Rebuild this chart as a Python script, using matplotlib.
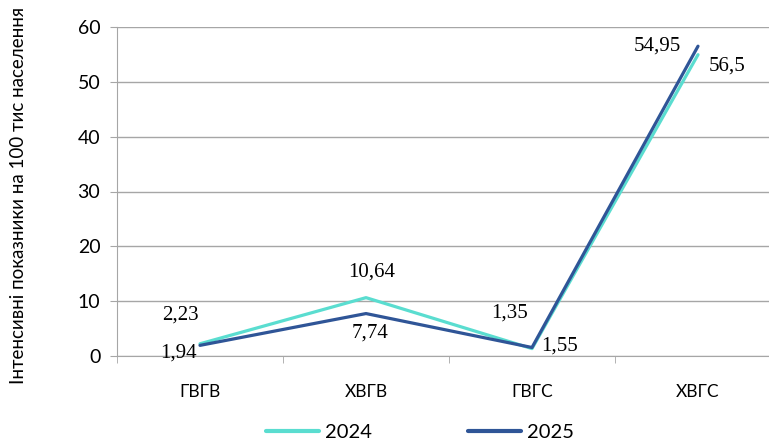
import matplotlib.pyplot as plt

categories = ["ГВГВ", "ХВГВ", "ГВГС", "ХВГС"]
values_2024 = [2.23, 10.64, 1.35, 54.95]
values_2025 = [1.94, 7.74, 1.55, 56.5]
labels_2024 = ["2,23", "10,64", "1,35", "54,95"]
labels_2025 = ["1,94", "7,74", "1,55", "56,5"]

# label offsets in pixels (dx, dy with y up)
off_2024 = [(-20, 29), (6, 26), (-22, 36), (-41, 9)]
off_2025 = [(-22, -8), (4, -19), (28, 1), (29, -20)]

c2024 = "#5ADDD0"
c2025 = "#2F5597"
grid_c = "#A6A6A6"
sans = "Lato"

fig = plt.figure(figsize=(7.69, 4.41), dpi=100)
ax = fig.add_axes([117 / 769, 1 - 356 / 441, 664 / 769, 329 / 441])

x = list(range(len(categories)))
ax.plot(x, values_2024, color=c2024, lw=2.3, label="2024", solid_capstyle="round")
ax.plot(x, values_2025, color=c2025, lw=2.3, label="2025", solid_capstyle="round")

for xi, v, t, (dx, dy) in zip(x, values_2024, labels_2024, off_2024):
    ax.annotate(t, (xi, v), xytext=(dx * 0.72, dy * 0.72), textcoords="offset points",
                ha="center", va="center", fontsize=15, family="Liberation Serif")
for xi, v, t, (dx, dy) in zip(x, values_2025, labels_2025, off_2025):
    ax.annotate(t, (xi, v), xytext=(dx * 0.72, dy * 0.72), textcoords="offset points",
                ha="center", va="center", fontsize=15, family="Liberation Serif")

ax.set_xlim(-0.5, 3.5)
ax.set_ylim(0, 60)
ax.set_yticks(range(0, 61, 10))
ax.set_xticks(x)
ax.set_xticklabels(categories, family=sans, fontsize=12.5)
ax.set_yticklabels([str(v) for v in range(0, 61, 10)], family=sans, fontsize=14)
ax.set_xticks([-0.5, 0.5, 1.5, 2.5, 3.5], minor=True)
ax.tick_params(axis="x", which="major", length=0, pad=20)
ax.tick_params(axis="x", which="minor", length=5, color=grid_c, direction="out")
ax.tick_params(axis="y", length=5, color=grid_c, pad=7)
ax.yaxis.grid(True, color=grid_c, lw=1)
ax.set_axisbelow(True)
for s in ["top", "right"]:
    ax.spines[s].set_visible(False)
ax.spines["left"].set_color(grid_c)
ax.spines["bottom"].set_color(grid_c)

fig.text(19 / 769, 1 - 195 / 441, "Інтенсивні показники на 100 тис населення",
         rotation=90, ha="center", va="center", fontsize=13.5, family=sans)

leg = fig.legend(loc="center", bbox_to_anchor=(420 / 769, 1 - 432 / 441), ncol=2,
                 frameon=False, prop={"family": sans, "size": 14.5}, handlelength=2.6,
                 columnspacing=4.8, handletextpad=0.3)
for line in leg.get_lines():
    line.set_linewidth(3)
    line.set_solid_capstyle("round")

fig.savefig("out.png", dpi=100)
